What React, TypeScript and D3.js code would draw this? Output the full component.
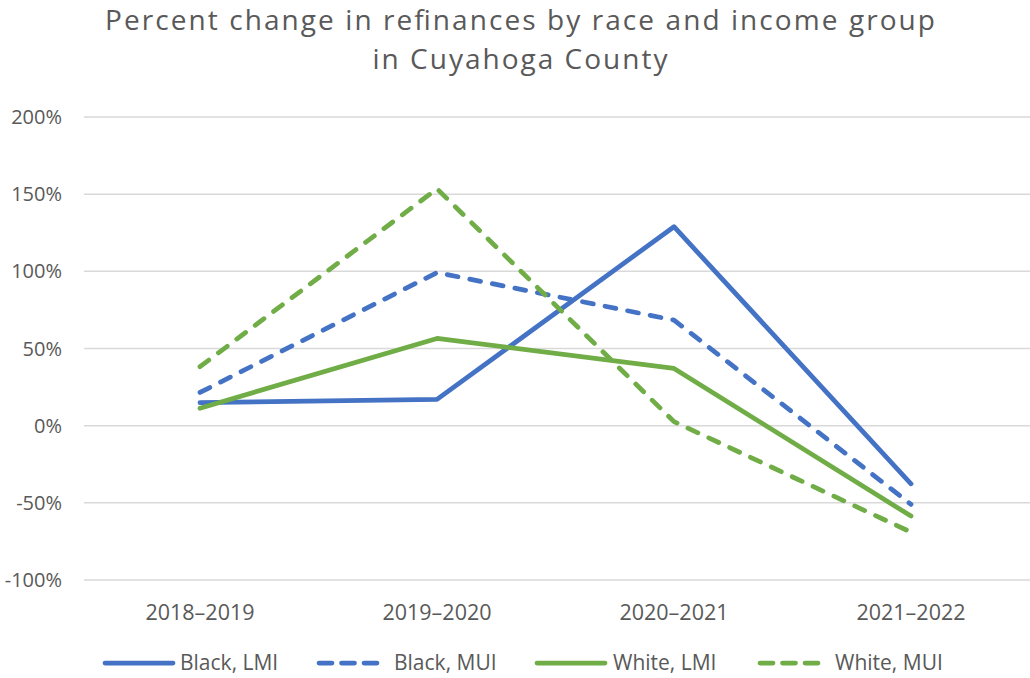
import React from 'react';
import * as d3 from 'd3';

const periods = ['2018–2019', '2019–2020', '2020–2021', '2021–2022'];
const blackLMI = [14.9, 17, 128.9, -37.7];
const blackMUI = [21.5, 99.2, 68.4, -51];
const whiteLMI = [11.3, 56.5, 37.1, -58.6];
const whiteMUI = [38.2, 153.5, 2.6, -69];
const yTicks = [-100, -50, 0, 50, 100, 150, 200];
const titleLines = ['Percent change in refinances by race and income group', 'in Cuyahoga County'];

const BLUE = '#4472C4';
const GREEN = '#70AD47';
const TEXT = '#595959';
const FONT = '"Open Sans", sans-serif';

const series = [
  { name: 'Black, LMI', values: blackLMI, color: BLUE, dashed: false },
  { name: 'Black, MUI', values: blackMUI, color: BLUE, dashed: true },
  { name: 'White, LMI', values: whiteLMI, color: GREEN, dashed: false },
  { name: 'White, MUI', values: whiteMUI, color: GREEN, dashed: true },
];

const App = () => {
  const width = 1030;
  const height = 678;

  const x = d3.scalePoint<string>().domain(periods).range([200, 911]);
  const y = d3.scaleLinear().domain([-100, 200]).range([580, 117]);

  const line = d3
    .line<number>()
    .x((_, i) => x(periods[i]) as number)
    .y((d) => y(d));

  // legend placement (sample start/end, text start)
  const legendItems = [
    { x0: 105, x1: 173, tx: 180 },
    { x0: 319, x1: 380, tx: 394 },
    { x0: 537, x1: 605, tx: 613 },
    { x0: 760, x1: 821, tx: 835 },
  ];
  const titleWidths = [830, 295];

  return (
    <svg
      width={width}
      height={height}
      style={{ position: 'absolute', left: 0, top: 0, background: '#fff' }}
    >
      {titleLines.map((t, i) => (
        <text
          key={t}
          x={520}
          y={30 + i * 39}
          textAnchor="middle"
          fontFamily={FONT}
          fontSize={28}
          textLength={titleWidths[i]}
          lengthAdjust="spacing"
          fill={TEXT}
        >
          {t}
        </text>
      ))}

      {yTicks.map((t) => (
        <g key={t}>
          <line x1={84} x2={1030} y1={y(t)} y2={y(t)} stroke="#d9d9d9" strokeWidth={1.5} />
          <text
            x={62}
            y={y(t)}
            dy="0.35em"
            textAnchor="end"
            fontFamily={FONT}
            fontSize={20}
            fill={TEXT}
          >
            {t + '%'}
          </text>
        </g>
      ))}

      {periods.map((p) => (
        <text
          key={p}
          x={x(p)}
          y={620}
          textAnchor="middle"
          fontFamily={FONT}
          fontSize={21.5}
          fill={TEXT}
        >
          {p}
        </text>
      ))}

      {series.map((s) => (
        <path
          key={s.name}
          d={line(s.values) || ''}
          fill="none"
          stroke={s.color}
          strokeWidth={4.75}
          strokeLinecap="round"
          strokeLinejoin="round"
          strokeDasharray={s.dashed ? '11 12' : undefined}
        />
      ))}

      {series.map((s, i) => {
        const L = legendItems[i];
        return (
          <g key={s.name}>
            <line
              x1={L.x0}
              x2={L.x1}
              y1={663}
              y2={663}
              stroke={s.color}
              strokeWidth={4.75}
              strokeLinecap="round"
              strokeDasharray={s.dashed ? '13 9.5' : undefined}
            />
            <text
              x={L.tx}
              y={663}
              dy="0.35em"
              fontFamily={FONT}
              fontSize={21}
              fill={TEXT}
            >
              {s.name}
            </text>
          </g>
        );
      })}
    </svg>
  );
};

export default App;
